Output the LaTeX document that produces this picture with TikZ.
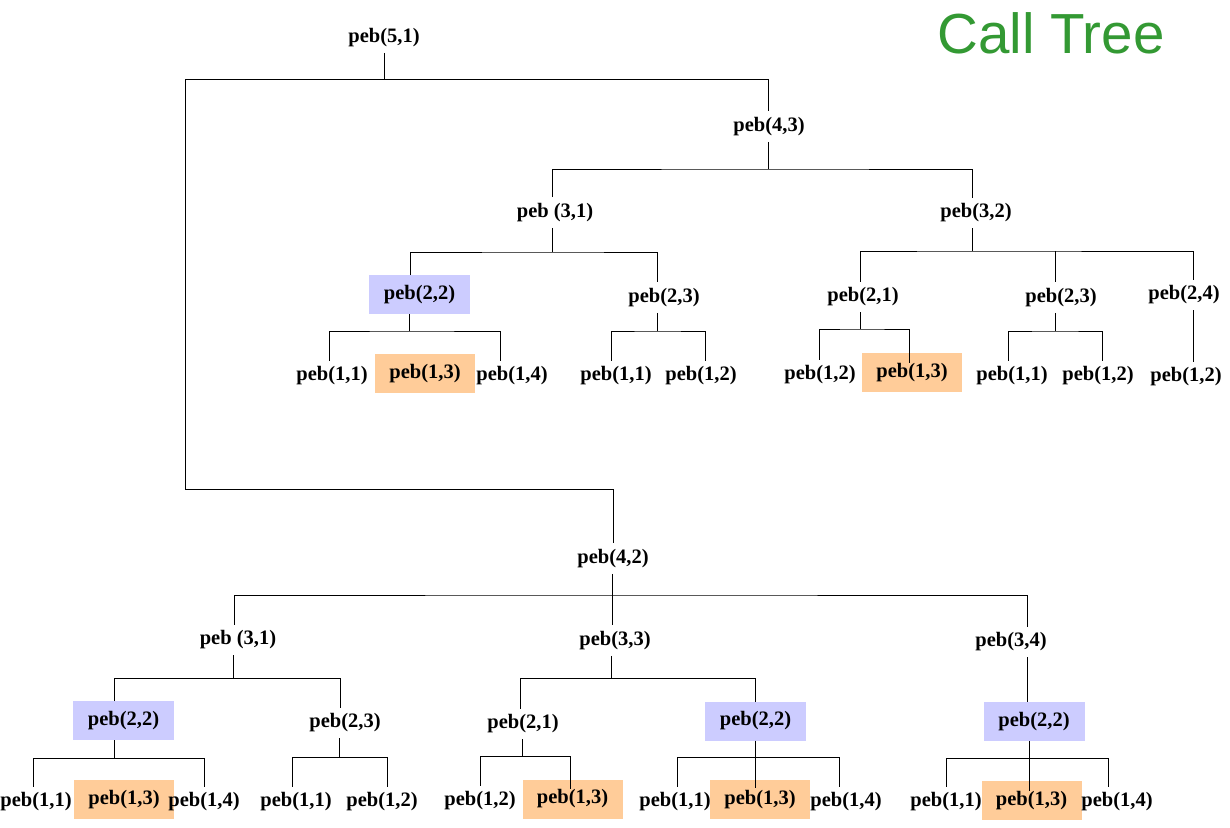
\documentclass[tikz,border=0pt]{standalone}
\usepackage{fontspec}
\setmainfont{Liberation Serif}
\newfontfamily\titlefont{Liberation Sans}
\definecolor{boxblue}{RGB}{204,204,255}
\definecolor{boxorange}{RGB}{255,204,153}
\definecolor{titlegreen}{RGB}{51,153,51}
\newcommand\pebfont{\bfseries\fontsize{20.5}{24}\selectfont}
\begin{document}
\begin{tikzpicture}[x=1pt,y=-1pt,
  lbl/.style={font=\pebfont, inner xsep=2pt, inner ysep=6pt, outer sep=0pt},
  bluebox/.style={font=\pebfont, fill=boxblue, minimum width=101pt, minimum height=39pt, inner sep=0pt, outer sep=0pt},
  orangebox/.style={font=\pebfont, fill=boxorange, minimum width=100pt, minimum height=39pt, inner sep=0pt, outer sep=0pt},
  conn/.style={draw=black, line width=1pt}]
\useasboundingbox (0,0) rectangle (1230,827);
\fill[white] (0,0) rectangle (1230,827);

% title
\node[font=\titlefont\fontsize{56.5}{62}\selectfont, text=titlegreen, anchor=base, inner sep=0pt] (title) at (1051,53) {Call Tree};

% ---------- upper tree ----------
\node[lbl] (n51) at (384,37.5) {peb(5,1)};
\node[lbl] (n43) at (769,126.5) {peb(4,3)};
\node[lbl] (n31a) at (555,212.5) {peb (3,1)};
\node[lbl] (n32) at (976,213) {peb(3,2)};
\node[bluebox] (n22a) at (419.5,294.5) {peb(2,2)};
\node[lbl] (n23a) at (664,297.5) {peb(2,3)};
\node[lbl] (n21a) at (863,297) {peb(2,1)};
\node[lbl] (n23b) at (1061,297.5) {peb(2,3)};
\node[lbl] (n24) at (1184,295) {peb(2,4)};
\node[lbl] (l11a) at (332,376) {peb(1,1)};
\node[orangebox] (l13a) at (425,373.5) {peb(1,3)};
\node[lbl] (l14a) at (512,376) {peb(1,4)};
\node[lbl] (l11b) at (616,376) {peb(1,1)};
\node[lbl] (l12b) at (701,376) {peb(1,2)};
\node[lbl] (l12c) at (820,375) {peb(1,2)};
\node[orangebox] (l13c) at (912,372.5) {peb(1,3)};
\node[lbl] (l11d) at (1012,376) {peb(1,1)};
\node[lbl] (l12d) at (1098,376) {peb(1,2)};
\node[lbl] (l12e) at (1186,377) {peb(1,2)};

% ---------- lower tree ----------
\node[lbl] (n42) at (613,558.5) {peb(4,2)};
\node[lbl] (n31b) at (238,640) {peb (3,1)};
\node[lbl] (n33) at (615,640.5) {peb(3,3)};
\node[lbl] (n34) at (1011,642) {peb(3,4)};
\node[bluebox] (n22b) at (123.5,720.5) {peb(2,2)};
\node[lbl] (n23c) at (345,723) {peb(2,3)};
\node[lbl] (n21b) at (523,724) {peb(2,1)};
\node[bluebox] (n22c) at (755.5,721) {peb(2,2)};
\node[bluebox] (n22d) at (1034,721.5) {peb(2,2)};
\node[lbl] (l11f) at (36,802) {peb(1,1)};
\node[orangebox] (l13f) at (124,799.5) {peb(1,3)};
\node[lbl] (l14f) at (204,802) {peb(1,4)};
\node[lbl] (l11g) at (296,802) {peb(1,1)};
\node[lbl] (l12g) at (382,802) {peb(1,2)};
\node[lbl] (l12h) at (480,801) {peb(1,2)};
\node[orangebox] (l13h) at (572.5,799) {peb(1,3)};
\node[lbl] (l11i) at (675,802) {peb(1,1)};
\node[orangebox] (l13i) at (760,799.5) {peb(1,3)};
\node[lbl] (l14i) at (846,802) {peb(1,4)};
\node[lbl] (l11j) at (946,802) {peb(1,1)};
\node[orangebox] (l13j) at (1031.5,800.5) {peb(1,3)};
\node[lbl] (l14j) at (1117,802) {peb(1,4)};

% junctions
\coordinate (j51) at (384,79);
\coordinate (jL) at (185,489);
\coordinate (j43) at (768,169);
\coordinate (j31a) at (552,252);
\coordinate (j32) at (972,251);
\coordinate (j22a) at (409,331);
\coordinate (j23a) at (657,331);
\coordinate (j21a) at (860,329);
\coordinate (j23b) at (1055,331);
\coordinate (j42) at (612,595);
\coordinate (j31b) at (233,678);
\coordinate (j33) at (611,678);
\coordinate (j22b) at (114,758);
\coordinate (j23c) at (339,757);
\coordinate (j21b) at (522,756);
\coordinate (j22c) at (755,757);
\coordinate (j22d) at (1029,758);
% ends inside orange boxes
\coordinate (e13c) at ([yshift=-10pt]l13c.north);
\coordinate (e13h) at ([yshift=-9pt]l13h.north);
\coordinate (e13i) at ([yshift=-8pt]l13i.north);
\coordinate (e13j) at ([yshift=-10pt]l13j.north);

% ---------- connectors upper ----------
\draw[conn] (j51 |- n51.south) -- (j51);
\draw[conn] (j51) -| (768,0 |- n43.north);
\draw[conn] (j51) -| (jL) -| (613,0 |- n42.north);

\draw[conn] (768,0 |- n43.south) -- (j43);
\draw[conn] (552,0 |- n31a.north) |- (j43) -| (972,0 |- n32.north);

\draw[conn] (j31a |- n31a.south) -- (j31a);
\draw[conn] (410,0 |- n22a.north) |- (j31a) -| (657,0 |- n23a.north);

\draw[conn] (j32 |- n32.south) -- (j32);
\draw[conn] (860,0 |- n21a.north) |- (j32) -| (1193,0 |- n24.north);
\draw[conn] (1055,0 |- j32) -- (1055,0 |- n23b.north);

\draw[conn] (j22a |- n22a.south) -- (j22a);
\draw[conn] (329,0 |- l11a.north) |- (j22a) -| (500,0 |- l14a.north);

\draw[conn] (j23a |- n23a.south) -- (j23a);
\draw[conn] (611,0 |- l11b.north) |- (j23a) -| (705,0 |- l12b.north);

\draw[conn] (j21a |- n21a.south) -- (j21a);
\draw[conn] (819,0 |- l12c.north) |- (j21a) -| (909,0 |- e13c);

\draw[conn] (j23b |- n23b.south) -- (j23b);
\draw[conn] (1008,0 |- l11d.north) |- (j23b) -| (1102,0 |- l12d.north);

\draw[conn] (1193,0 |- n24.south) -- (1193,0 |- l12e.north);

% ---------- connectors lower ----------
\draw[conn] (j42 |- n42.south) -- (j42);
\draw[conn] (234,0 |- n31b.north) |- (j42) -| (1027,0 |- n34.north);
\draw[conn] (612,0 |- j42) -- (612,0 |- n33.north);

\draw[conn] (j31b |- n31b.south) -- (j31b);
\draw[conn] (114,0 |- n22b.north) |- (j31b) -| (340,0 |- n23c.north);

\draw[conn] (j33 |- n33.south) -- (j33);
\draw[conn] (520,0 |- n21b.north) |- (j33) -| (755,0 |- n22c.north);

\draw[conn] (1027,0 |- n34.south) -- (1027,0 |- n22d.north);

\draw[conn] (j22b |- n22b.south) -- (j22b);
\draw[conn] (33,0 |- l11f.north) |- (j22b) -| (204,0 |- l14f.north);

\draw[conn] (j23c |- n23c.south) -- (j23c);
\draw[conn] (292,0 |- l11g.north) |- (j23c) -| (387,0 |- l12g.north);

\draw[conn] (j21b |- n21b.south) -- (j21b);
\draw[conn] (480,0 |- l12h.north) |- (j21b) -| (570,0 |- e13h);

\draw[conn] (j22c |- n22c.south) -- (755,0 |- e13i);
\draw[conn] (677,0 |- l11i.north) |- (j22c) -| (839,0 |- l14i.north);

\draw[conn] (j22d |- n22d.south) -- (1029,0 |- e13j);
\draw[conn] (946,0 |- l11j.north) |- (j22d) -| (1108,0 |- l14j.north);
\end{tikzpicture}
\end{document}
